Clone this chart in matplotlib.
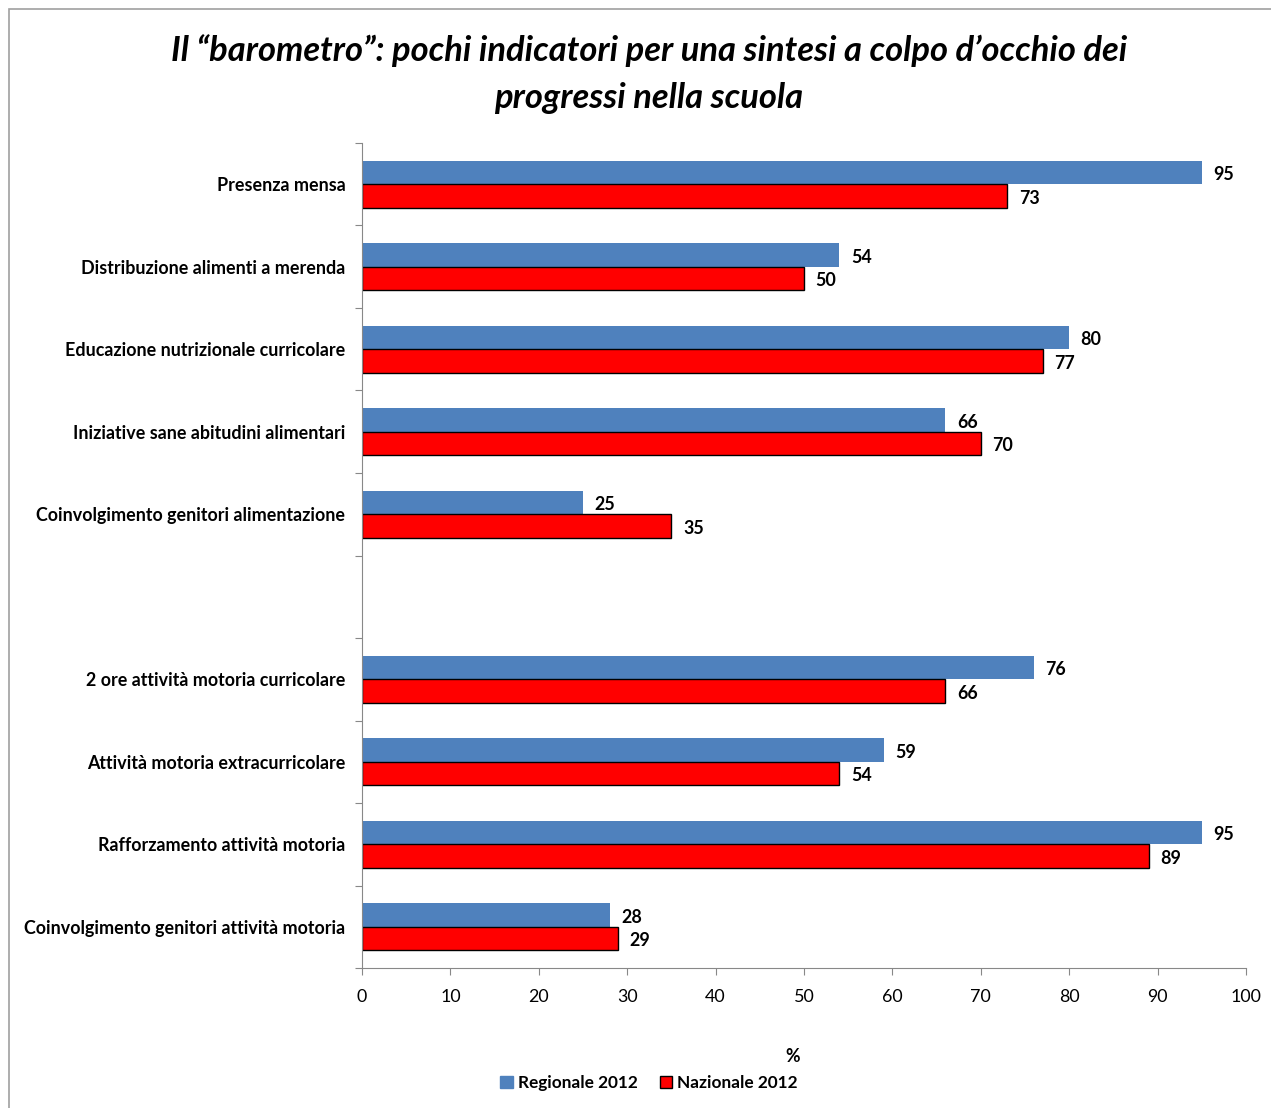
import numpy as np
import matplotlib.pyplot as plt
from matplotlib.patches import Rectangle

# indicatori (la riga vuota separa alimentazione e attività motoria)
categorie = ['Presenza mensa',
             'Distribuzione alimenti a merenda',
             'Educazione nutrizionale curricolare',
             'Iniziative sane abitudini alimentari',
             'Coinvolgimento genitori alimentazione',
             '',
             '2 ore attività motoria curricolare',
             'Attività motoria extracurricolare',
             'Rafforzamento attività motoria',
             'Coinvolgimento genitori attività motoria']
regionale = [95, 54, 80, 66, 25, None, 76, 59, 95, 28]
nazionale = [73, 50, 77, 70, 35, None, 66, 54, 89, 29]

plt.rcParams['font.family'] = ['Lato', 'DejaVu Sans']

fig = plt.figure(figsize=(12.71, 11.08), dpi=100)
ax = fig.add_axes([362/1271, 1-968/1108, (1246-362)/1271, (968-143)/1108])

# cornice esterna
fig.patches.append(Rectangle((9/1271, -0.05), 1.1, 1-9/1108+0.05, transform=fig.transFigure,
                             fill=False, edgecolor='#a0a0a0', lw=1.2))

h = 0.285
for i, (r, n) in enumerate(zip(regionale, nazionale)):
    if r is None:
        continue
    ax.barh(i - h/2, r, height=h, color='#4F81BD', edgecolor='none')
    ax.barh(i + h/2, n, height=h, color='#FF0000', edgecolor='black', linewidth=1)
    ax.text(r + 1.3, i - h/2 + 0.03, str(r), va='center', ha='left', fontsize=12.9, fontweight='bold')
    ax.text(n + 1.3, i + h/2 + 0.03, str(n), va='center', ha='left', fontsize=12.9, fontweight='bold')

ax.set_xlim(0, 100)
ax.set_ylim(9.5, -0.5)
ax.set_xticks(np.arange(0, 101, 10))
ax.set_yticks(np.arange(-0.5, 10, 1))
ax.set_yticklabels([])
ax.set_yticks(np.arange(10), minor=True)
ax.set_yticklabels(categorie, minor=True, fontsize=12.9, fontweight='bold')
ax.tick_params(axis='y', which='minor', length=0, pad=12)
ax.tick_params(axis='y', which='major', length=5, color='#888888', direction='out')
ax.tick_params(axis='x', length=5, color='#888888', labelsize=12.9, pad=10)
for s in ['top', 'right']:
    ax.spines[s].set_visible(False)
for s in ['left', 'bottom']:
    ax.spines[s].set_color('#888888')

fig.text(649/1271, 1-74/1108,
         'Il \u201cbarometro\u201d: pochi indicatori per una sintesi a colpo d\u2019occhio dei\nprogressi nella scuola',
         ha='center', va='center', fontsize=24.8, fontweight='bold', fontstyle='italic', linespacing=1.55)

fig.text(793/1271, 1-1057/1108, '%', ha='center', va='center', fontsize=12.9, fontweight='bold')

handles = [Rectangle((0, 0), 1, 1, color='#4F81BD'),
           Rectangle((0, 0), 1, 1, facecolor='#FF0000', edgecolor='black')]
fig.legend(handles, ['Regionale 2012', 'Nazionale 2012'], loc='center', ncol=2,
           bbox_to_anchor=(649/1271, 1-1083/1108), frameon=False,
           prop={'weight': 'bold', 'size': 12.4}, handlelength=0.7, handleheight=0.7,
           handletextpad=0.3, columnspacing=1.3)

fig.savefig('out.png', dpi=100)
